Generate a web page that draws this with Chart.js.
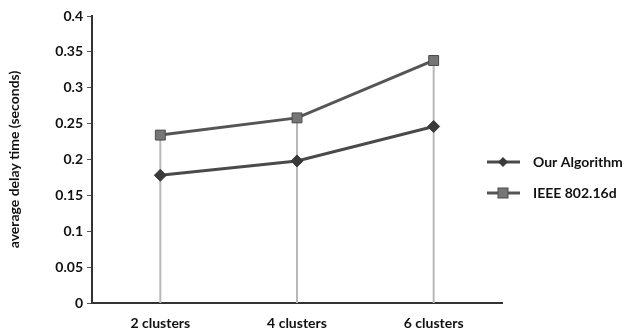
<!DOCTYPE html>
<html>
<head>
<meta charset="utf-8">
<script src="https://cdn.jsdelivr.net/npm/chart.js@4/dist/chart.umd.min.js"></script>
<style>
	html, body { margin: 0; padding: 0; background: #fff; }
	#myChart { display: block; }
</style>
</head>
<body>
<canvas id="myChart" width="632" height="332"></canvas>
<script>
// Chart data
const categories = ['2 clusters', '4 clusters', '6 clusters'];
const ourAlgorithm = [0.178, 0.198, 0.246];
const ieee80216d = [0.234, 0.258, 0.338];
const yTicks = [0, 0.05, 0.1, 0.15, 0.2, 0.25, 0.3, 0.35, 0.4];

const FONT = 'Lato, "Open Sans", sans-serif';
const INK = '#111';

// Gray drop lines from the axis up to the highest point of each category
const dropLines = {
	id: 'dropLines',
	beforeDatasetsDraw(chart) {
		const x = chart.scales.x;
		const y = chart.scales.y;
		const ctx = chart.ctx;
		ctx.save();
		ctx.strokeStyle = '#b8b8b8';
		ctx.lineWidth = 2;
		categories.forEach((c, i) => {
			const top = Math.max(...chart.data.datasets.map(d => d.data[i]));
			const px = x.getPixelForValue(i);
			ctx.beginPath();
			ctx.moveTo(px, y.getPixelForValue(0));
			ctx.lineTo(px, y.getPixelForValue(top));
			ctx.stroke();
		});
		ctx.restore();
	}
};

// Legend on the right: short line with marker, then the series name
const sideLegend = {
	id: 'sideLegend',
	afterDraw(chart) {
		const ctx = chart.ctx;
		const rows = [162, 193];
		ctx.save();
		chart.data.datasets.forEach((ds, i) => {
			const yy = rows[i];
			ctx.strokeStyle = ds.borderColor;
			ctx.lineWidth = 3;
			ctx.beginPath();
			ctx.moveTo(487, yy);
			ctx.lineTo(520, yy);
			ctx.stroke();
			ctx.fillStyle = ds.pointBackgroundColor;
			ctx.strokeStyle = ds.pointBorderColor;
			ctx.lineWidth = 1;
			if (ds.pointStyle === 'rect') {
				ctx.fillRect(498, yy - 5, 10, 10);
				ctx.strokeRect(498, yy - 5, 10, 10);
			} else {
				ctx.beginPath();
				ctx.moveTo(503, yy - 5);
				ctx.lineTo(508, yy);
				ctx.lineTo(503, yy + 5);
				ctx.lineTo(498, yy);
				ctx.closePath();
				ctx.fill();
			}
			ctx.fillStyle = INK;
			ctx.font = 'bold 14px ' + FONT;
			ctx.textBaseline = 'middle';
			ctx.textAlign = 'left';
			ctx.fillText(ds.label, 533, yy);
		});
		ctx.restore();
	}
};

const canvas = document.getElementById('myChart');

new Chart(canvas, {
	type: 'line',
	data: {
		labels: categories,
		datasets: [{
			label: 'Our Algorithm',
			data: ourAlgorithm,
			borderColor: '#4a4a4a',
			borderWidth: 3,
			pointStyle: 'rectRot',
			pointRadius: 6,
			pointBackgroundColor: '#3a3a3a',
			pointBorderColor: '#3a3a3a',
			pointBorderWidth: 1,
			tension: 0
		}, {
			label: 'IEEE 802.16d',
			data: ieee80216d,
			borderColor: '#555555',
			borderWidth: 3,
			pointStyle: 'rect',
			pointRadius: 7,
			pointBackgroundColor: '#767676',
			pointBorderColor: '#4a4a4a',
			pointBorderWidth: 1,
			tension: 0
		}]
	},
	options: {
		responsive: false,
		animation: false,
		layout: {
			padding: { left: 4, right: 130, top: 16, bottom: 0 }
		},
		plugins: {
			legend: { display: false },
			tooltip: { enabled: false }
		},
		scales: {
			x: {
				offset: true,
				afterFit(axis) { axis.height = 29; },
				grid: { display: false, drawTicks: false },
				border: { display: true, color: '#333', width: 2 },
				ticks: {
					color: INK,
					padding: 12,
					font: { family: FONT, size: 14, weight: 'bold' }
				}
			},
			y: {
				min: 0,
				max: 0.4,
				afterFit(axis) { axis.width = 88; },
				afterBuildTicks(axis) {
					axis.ticks = yTicks.map(v => ({ value: v }));
				},
				grid: {
					drawOnChartArea: false,
					drawTicks: true,
					tickLength: 5,
					tickColor: '#555'
				},
				border: { display: true, color: '#333', width: 2 },
				ticks: {
					color: INK,
					padding: 4,
					font: { family: FONT, size: 14, weight: 'bold' },
					callback: v => String(Math.round(v * 100) / 100)
				},
				title: {
					display: true,
					text: 'average delay time (seconds)',
					color: INK,
					padding: { top: 2, bottom: 10 },
					font: { family: FONT, size: 14, weight: 'bold' }
				}
			}
		}
	},
	plugins: [dropLines, sideLegend]
});
</script>
</body>
</html>
